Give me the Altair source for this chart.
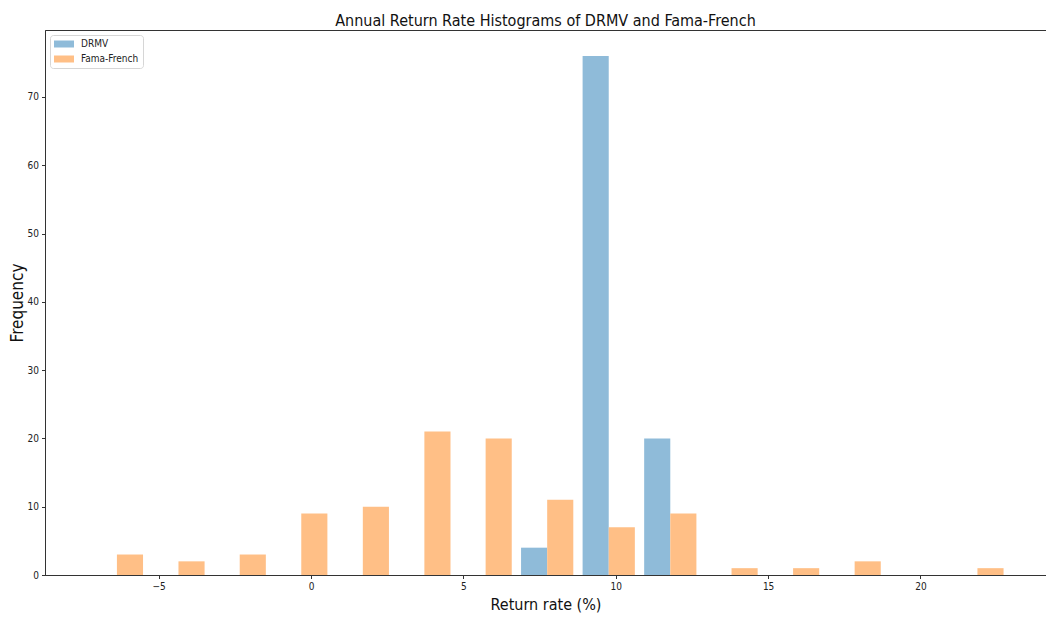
import altair as alt
import pandas as pd

# Histogram bins (centre of each bin, in % return) and counts per series
bin_centers = [-6.37, -4.35, -2.34, -0.32, 1.70, 3.72, 5.73, 7.75,
               9.77, 11.79, 13.80, 15.82, 17.84, 19.85, 21.87]
bin_width = 2.017
drmv_counts = [0, 0, 0, 0, 0, 0, 0, 4, 76, 20, 0, 0, 0, 0, 0]
ff_counts = [3, 2, 3, 9, 10, 21, 20, 11, 7, 9, 1, 1, 2, 0, 1]
series_names = ["DRMV", "Fama-French"]
series_colors = ["#8fbbd9", "#ffbf86"]
x_ticks = [-5, 0, 5, 10, 15, 20]
y_ticks = [0, 10, 20, 30, 40, 50, 60, 70]

# side-by-side bars inside each bin: DRMV on the left half, Fama-French on the right
GROUP_FRAC = 0.425
rows = []
for c, d, f in zip(bin_centers, drmv_counts, ff_counts):
    half = GROUP_FRAC * bin_width
    rows.append({"series": series_names[0], "x0": c - half, "x1": c, "count": d})
    rows.append({"series": series_names[1], "x0": c, "x1": c + half, "count": f})
df = pd.DataFrame(rows)
df = df[df["count"] > 0]

FONT = "DejaVu Sans Condensed, DejaVu Sans, sans-serif"

bars = alt.Chart(df).mark_bar().encode(
    x=alt.X("x0:Q",
            scale=alt.Scale(domain=[-8.73, 24.12], nice=False, zero=False),
            axis=alt.Axis(values=x_ticks, title="Return rate (%)", grid=False,
                          titleFontSize=16, titleFontWeight="normal",
                          titleY=29, titleBaseline="middle")),
    x2="x1:Q",
    y=alt.Y("count:Q",
            scale=alt.Scale(domain=[0, 79.8], nice=False),
            axis=alt.Axis(values=y_ticks, title="Frequency", grid=False,
                          titleFontSize=17, titleFontWeight="normal",
                          titleAngle=-90, titleX=-28, titleY=272.5,
                          titleAlign="center", titleBaseline="middle")),
    y2=alt.Y2(datum=0),
    color=alt.Color("series:N",
                    scale=alt.Scale(domain=series_names, range=series_colors),
                    legend=alt.Legend(title=None, orient="none", legendX=5, legendY=5,
                                      direction="vertical",
                                      symbolType="M-2,-0.7L2,-0.7L2,0.7L-2,0.7Z",
                                      symbolSize=100, symbolStrokeWidth=0,
                                      symbolOpacity=1, symbolOffset=5,
                                      labelFontSize=10, labelFont=FONT,
                                      labelColor="#222222", labelOffset=12,
                                      rowPadding=5,
                                      strokeColor="#d6d6d6", fillColor="white",
                                      cornerRadius=3, padding=4)),
)

chart = bars.properties(
    width=1001,
    height=545,
    title=alt.TitleParams("Annual Return Rate Histograms of DRMV and Fama-French",
                          fontSize=16, fontWeight="normal", font=FONT,
                          color="#111111", anchor="middle", offset=2, dy=17,
                          baseline="bottom", frame="group"),
    autosize=alt.AutoSizeParams(type="none"),
    padding={"left": 45, "top": 30, "right": 0, "bottom": 42},
    background="white",
).configure_view(
    stroke="#333333", strokeWidth=1
).configure_axis(
    domainColor="#333333", domainWidth=1,
    tickColor="#333333", tickSize=3.5, tickWidth=1,
    labelFont=FONT, labelFontSize=10, labelColor="#222222", labelPadding=3,
    titleFont=FONT, titleColor="#111111",
)

chart.save("out.html", embed_options={"renderer": "svg", "actions": False})
